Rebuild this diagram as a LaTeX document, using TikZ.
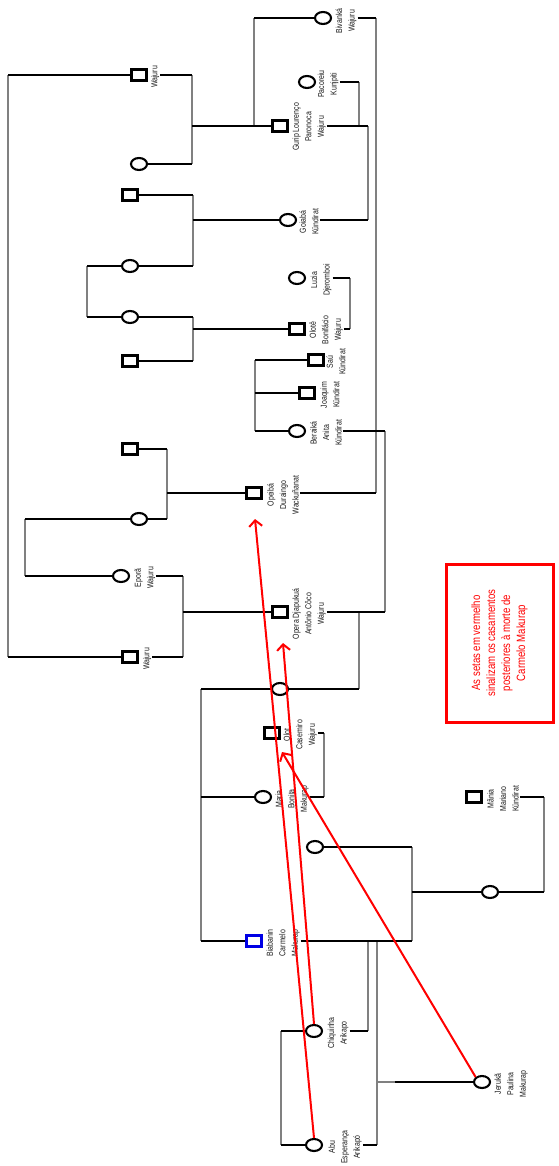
\documentclass[tikz,border=0pt]{standalone}
\usepackage{fontspec}
\setmainfont{Liberation Sans}
\newfontfamily\narfont[FakeStretch=0.8]{Liberation Sans}
\usetikzlibrary{shapes.geometric,arrows.meta}
\begin{document}
\begin{tikzpicture}[x=1pt,y=-1pt,
 male/.style={draw,rectangle,line width=2.1pt,minimum width=15pt,minimum height=11pt,inner sep=0pt,fill=white},
 female/.style={draw,ellipse,line width=2.1pt,minimum width=16pt,minimum height=12pt,inner sep=0pt,fill=white},
 lbl/.style={rotate=90,font={\narfont\fontsize{8.7}{12.5}\selectfont},align=center,text=black!90,inner sep=1pt},
 bl/.style={line width=1.8pt,black},
 gr/.style={line width=2.3pt,black!50},
 redarrow/.style={draw=red,line width=2pt,-{Straight Barb[length=6pt,width=13pt]}}]
\useasboundingbox (0,0) rectangle (558,1166);

% persons
\node[male] (wT) at (139,75) {};
\node[female] (cT) at (139,164) {};
\node[male] (sA) at (130,195) {};
\node[female] (cA) at (130,266) {};
\node[female] (cB) at (130,317) {};
\node[male] (sB) at (130,361) {};
\node[male] (sC) at (130,449) {};
\node[female] (cC) at (139,519) {};
\node[female] (epo) at (121,576) {};
\node[male] (wB) at (130,657) {};
\node[female] (biv) at (323,18) {};
\node[female] (pac) at (307,82) {};
\node[male] (gur) at (280,126) {};
\node[female] (goi) at (288,220) {};
\node[female] (luz) at (297,278) {};
\node[male] (olo) at (297,329) {};
\node[male] (sau) at (316,360) {};
\node[male] (joa) at (307,393) {};
\node[female] (ber) at (297,431) {};
\node[male] (ope) at (254,493) {};
\node[male] (opr) at (280,612) {};
\node[female] (cD) at (280,689) {};
\node[male] (olt) at (272,733) {};
\node[female] (mar) at (263,797) {};
\node[female] (cE) at (315,847) {};
\node[female] (cF) at (490,892) {};
\node[male] (man) at (474,797) {};
\node[male,draw=blue!90!black] (car) at (254,941) {};
\node[female] (chi) at (314,1031) {};
\node[female] (abu) at (314,1145) {};
\node[female] (jer) at (482,1082) {};

% labels
\node[lbl] (wTl) at (155,77) {Wajuru};
\node[lbl] (bivl) at (346,21) {Bivanká\\Wajuru};
\node[lbl] (pacl) at (328,84) {Pacoreiu\\Kunjpiti};
\node[lbl] (gurl) at (309,127) {Gurip Lourenço\\Paronoca\\Wajuru};
\node[lbl] (goil) at (309,222) {Goiabá\\Kündirat};
\node[lbl] (luzl) at (321,280) {Luzia\\Djeromboi};
\node[lbl] (olol) at (326,330) {Olotê\\Bonifácio\\Wajuru};
\node[lbl] (saul) at (336,362) {Saú\\Kündirat};
\node[lbl] (joal) at (330,395) {Joaquim\\Kündirat};
\node[lbl] (berl) at (326,433) {Beraiká\\Anita\\Kündirat};
\node[lbl] (opel) at (283,495) {Opeibá\\Duraingo\\Wackuñanat};
\node[lbl] (epol) at (145,578) {Eporã\\Wajuru};
\node[lbl] (oprl) at (309,614) {Opera Djapukuá\\Antônio Côco\\Wajuru};
\node[lbl] (wBl) at (147,659) {Wajuru};
\node[lbl] (oltl) at (300,735) {Olot\\Casemiro\\Wajuru};
\node[lbl] (marl) at (292,799) {Maria\\Bonita\\Makurap};
\node[lbl] (manl) at (503,799) {Mãnia\\Mariano\\Kündirat};
\node[lbl] (carl) at (283,943) {Biabanin\\Carmelo\\Makurap};
\node[lbl] (chil) at (338,1033) {Chiquinha\\Arikapo};
\node[lbl] (abul) at (345,1147) {Abu\\Esperança\\Arikapó};
\node[lbl] (jerl) at (511,1084) {Jerukã\\Paulina\\Makurap};

% junctions
\coordinate (L75) at (8,75); \coordinate (L657) at (8,657);
\coordinate (a192t) at (192,75); \coordinate (a192m) at (192,126); \coordinate (a192b) at (192,164);
\coordinate (b254t) at (254,18); \coordinate (b254b) at (254,126);
\coordinate (c376t) at (376,18); \coordinate (c376b) at (376,493);
\coordinate (d359t) at (359,82); \coordinate (d359b) at (359,126);
\coordinate (e368t) at (368,126); \coordinate (e368b) at (368,220);
\coordinate (f193a) at (193,195); \coordinate (f193b) at (193,220); \coordinate (f193c) at (193,266);
\coordinate (g87t) at (87,266); \coordinate (g87b) at (87,317);
\coordinate (h193a) at (193,317); \coordinate (h193b) at (193,329); \coordinate (h193c) at (193,361);
\coordinate (i350t) at (350,278); \coordinate (i350b) at (350,329);
\coordinate (k255a) at (255,360); \coordinate (k255b) at (255,393); \coordinate (k255c) at (255,431);
\coordinate (m385t) at (385,431); \coordinate (m385b) at (385,612);
\coordinate (n167a) at (167,449); \coordinate (n167b) at (167,493); \coordinate (n167c) at (167,519);
\coordinate (p25t) at (25,519); \coordinate (p25b) at (25,576);
\coordinate (q183a) at (183,576); \coordinate (q183b) at (183,612); \coordinate (q183c) at (183,657);
\coordinate (r359t) at (359,612); \coordinate (r359b) at (359,689);
\coordinate (s201a) at (201,689); \coordinate (s201b) at (201,797); \coordinate (s201c) at (201,941);
\coordinate (t324t) at (324,733); \coordinate (t324b) at (324,797);
\coordinate (u412a) at (412,847); \coordinate (u412b) at (412,892); \coordinate (u412c) at (412,941);
\coordinate (v544t) at (544,797); \coordinate (v544b) at (544,892);
\coordinate (w368t) at (368,941); \coordinate (w368b) at (368,1031);
\coordinate (w377t) at (377,941); \coordinate (w377m) at (377,1082); \coordinate (w377b) at (377,1145);
\coordinate (w395) at (395,1082);
\coordinate (x281t) at (281,1031); \coordinate (x281b) at (281,1145);
\coordinate (tip1) at (255,519); \coordinate (tip2) at (283,643); \coordinate (tip3) at (282,752);

% gray verticals
\draw[gr] (L75) -- (L657);
\draw[gr] (a192t) -- (a192b);
\draw[gr] (b254t) -- (b254b);
\draw[gr] (c376t) -- (c376b);
\draw[gr] (d359t) -- (d359b);
\draw[gr] (e368t) -- (e368b);
\draw[gr] (f193a) -- (f193c);
\draw[gr] (g87t) -- (g87b);
\draw[gr] (h193a) -- (h193c);
\draw[gr] (i350t) -- (i350b);
\draw[gr] (k255a) -- (k255c);
\draw[gr] (m385t) -- (m385b);
\draw[gr] (n167a) -- (n167c);
\draw[gr] (p25t) -- (p25b);
\draw[gr] (q183a) -- (q183c);
\draw[gr] (r359t) -- (r359b);
\draw[gr] (s201a) -- (s201c);
\draw[gr] (t324t) -- (t324b);
\draw[gr] (u412a) -- (u412c);
\draw[gr] (v544t) -- (v544b);
\draw[gr] (w368t) -- (w368b);
\draw[gr] (w377t) -- (w377b);
\draw[gr] (x281t) -- (x281b);
\draw[gr] (w377m) -- (w395);

% black horizontals
\draw[bl] (L75) -- (wT.west);
\draw[bl] (wTl.south |- wT) -- (a192t);
\draw[bl] (cT.east) -- (a192b);
\draw[bl] (a192m) -- (b254b) -- (gur.west);
\draw[bl] (b254t) -- (biv.west);
\draw[bl] (bivl.south |- biv) -- (c376t);
\draw[bl] (pacl.south |- pac) -- (d359t);
\draw[bl] (gurl.south |- gur) -- (e368t);
\draw[bl] (goil.south |- goi) -- (e368b);
\draw[bl] (sA.east) -- (f193a);
\draw[bl] (cA.east) -- (f193c);
\draw[bl] (f193b) -- (goi.west);
\draw[bl] (cA.west) -- (g87t);
\draw[bl] (g87b) -- (cB.west);
\draw[bl] (cB.east) -- (h193a);
\draw[bl] (sB.east) -- (h193c);
\draw[bl] (h193b) -- (olo.west);
\draw[bl] (luzl.south |- luz) -- (i350t);
\draw[bl] (olol.south |- olo) -- (i350b);
\draw[bl] (k255a) -- (sau.west);
\draw[bl] (k255b) -- (joa.west);
\draw[bl] (k255c) -- (ber.west);
\draw[bl] (berl.south |- ber) -- (m385t);
\draw[bl] (oprl.south |- opr) -- (m385b);
\draw[bl] (sC.east) -- (n167a);
\draw[bl] (cC.east) -- (n167c);
\draw[bl] (n167b) -- (ope.west);
\draw[bl] (opel.south |- ope) -- (c376b);
\draw[bl] (cC.west) -- (p25t);
\draw[bl] (p25b) -- (epo.west);
\draw[bl] (epol.south |- epo) -- (q183a);
\draw[bl] (q183b) -- (opr.west);
\draw[bl] (wBl.south |- wB) -- (q183c);
\draw[bl] (L657) -- (wB.west);
\draw[bl] (cD.east) -- (r359b);
\draw[bl] (s201a) -- (cD.west);
\draw[bl] (s201b) -- (mar.west);
\draw[bl] (s201c) -- (car.west);
\draw[bl] (oltl.south |- olt) -- (t324t);
\draw[bl] (marl.south |- mar) -- (t324b);
\draw[bl] (cE.east) -- (u412a);
\draw[bl] (carl.south |- car) -- (u412c);
\draw[bl] (u412b) -- (cF.west);
\draw[bl] (cF.east) -- (v544b);
\draw[bl] (manl.south |- man) -- (v544t);
\draw[bl] (chil.south |- chi) -- (w368b);
\draw[bl] (abul.south |- abu) -- (w377b);
\draw[bl] (w395) -- (jer.west);
\draw[bl] (chi.west) -- (x281t);
\draw[bl] (x281b) -- (abu.west);

% red arrows
\draw[redarrow] (abu.north) -- (tip1);
\draw[redarrow] (chi.north) -- (tip2);
\draw[redarrow] (jer.north west) -- (tip3);

% note
\node[draw=red,line width=3pt,rotate=90,minimum width=158pt,minimum height=107pt,
  text=red,align=center,font={\narfont\fontsize{12}{15}\selectfont}] (note) at (499.5,643)
  {As setas em vermelho\\sinalizam os casamentos\\posteriores à morte de\\Carmelo Makurap};
\end{tikzpicture}
\end{document}
